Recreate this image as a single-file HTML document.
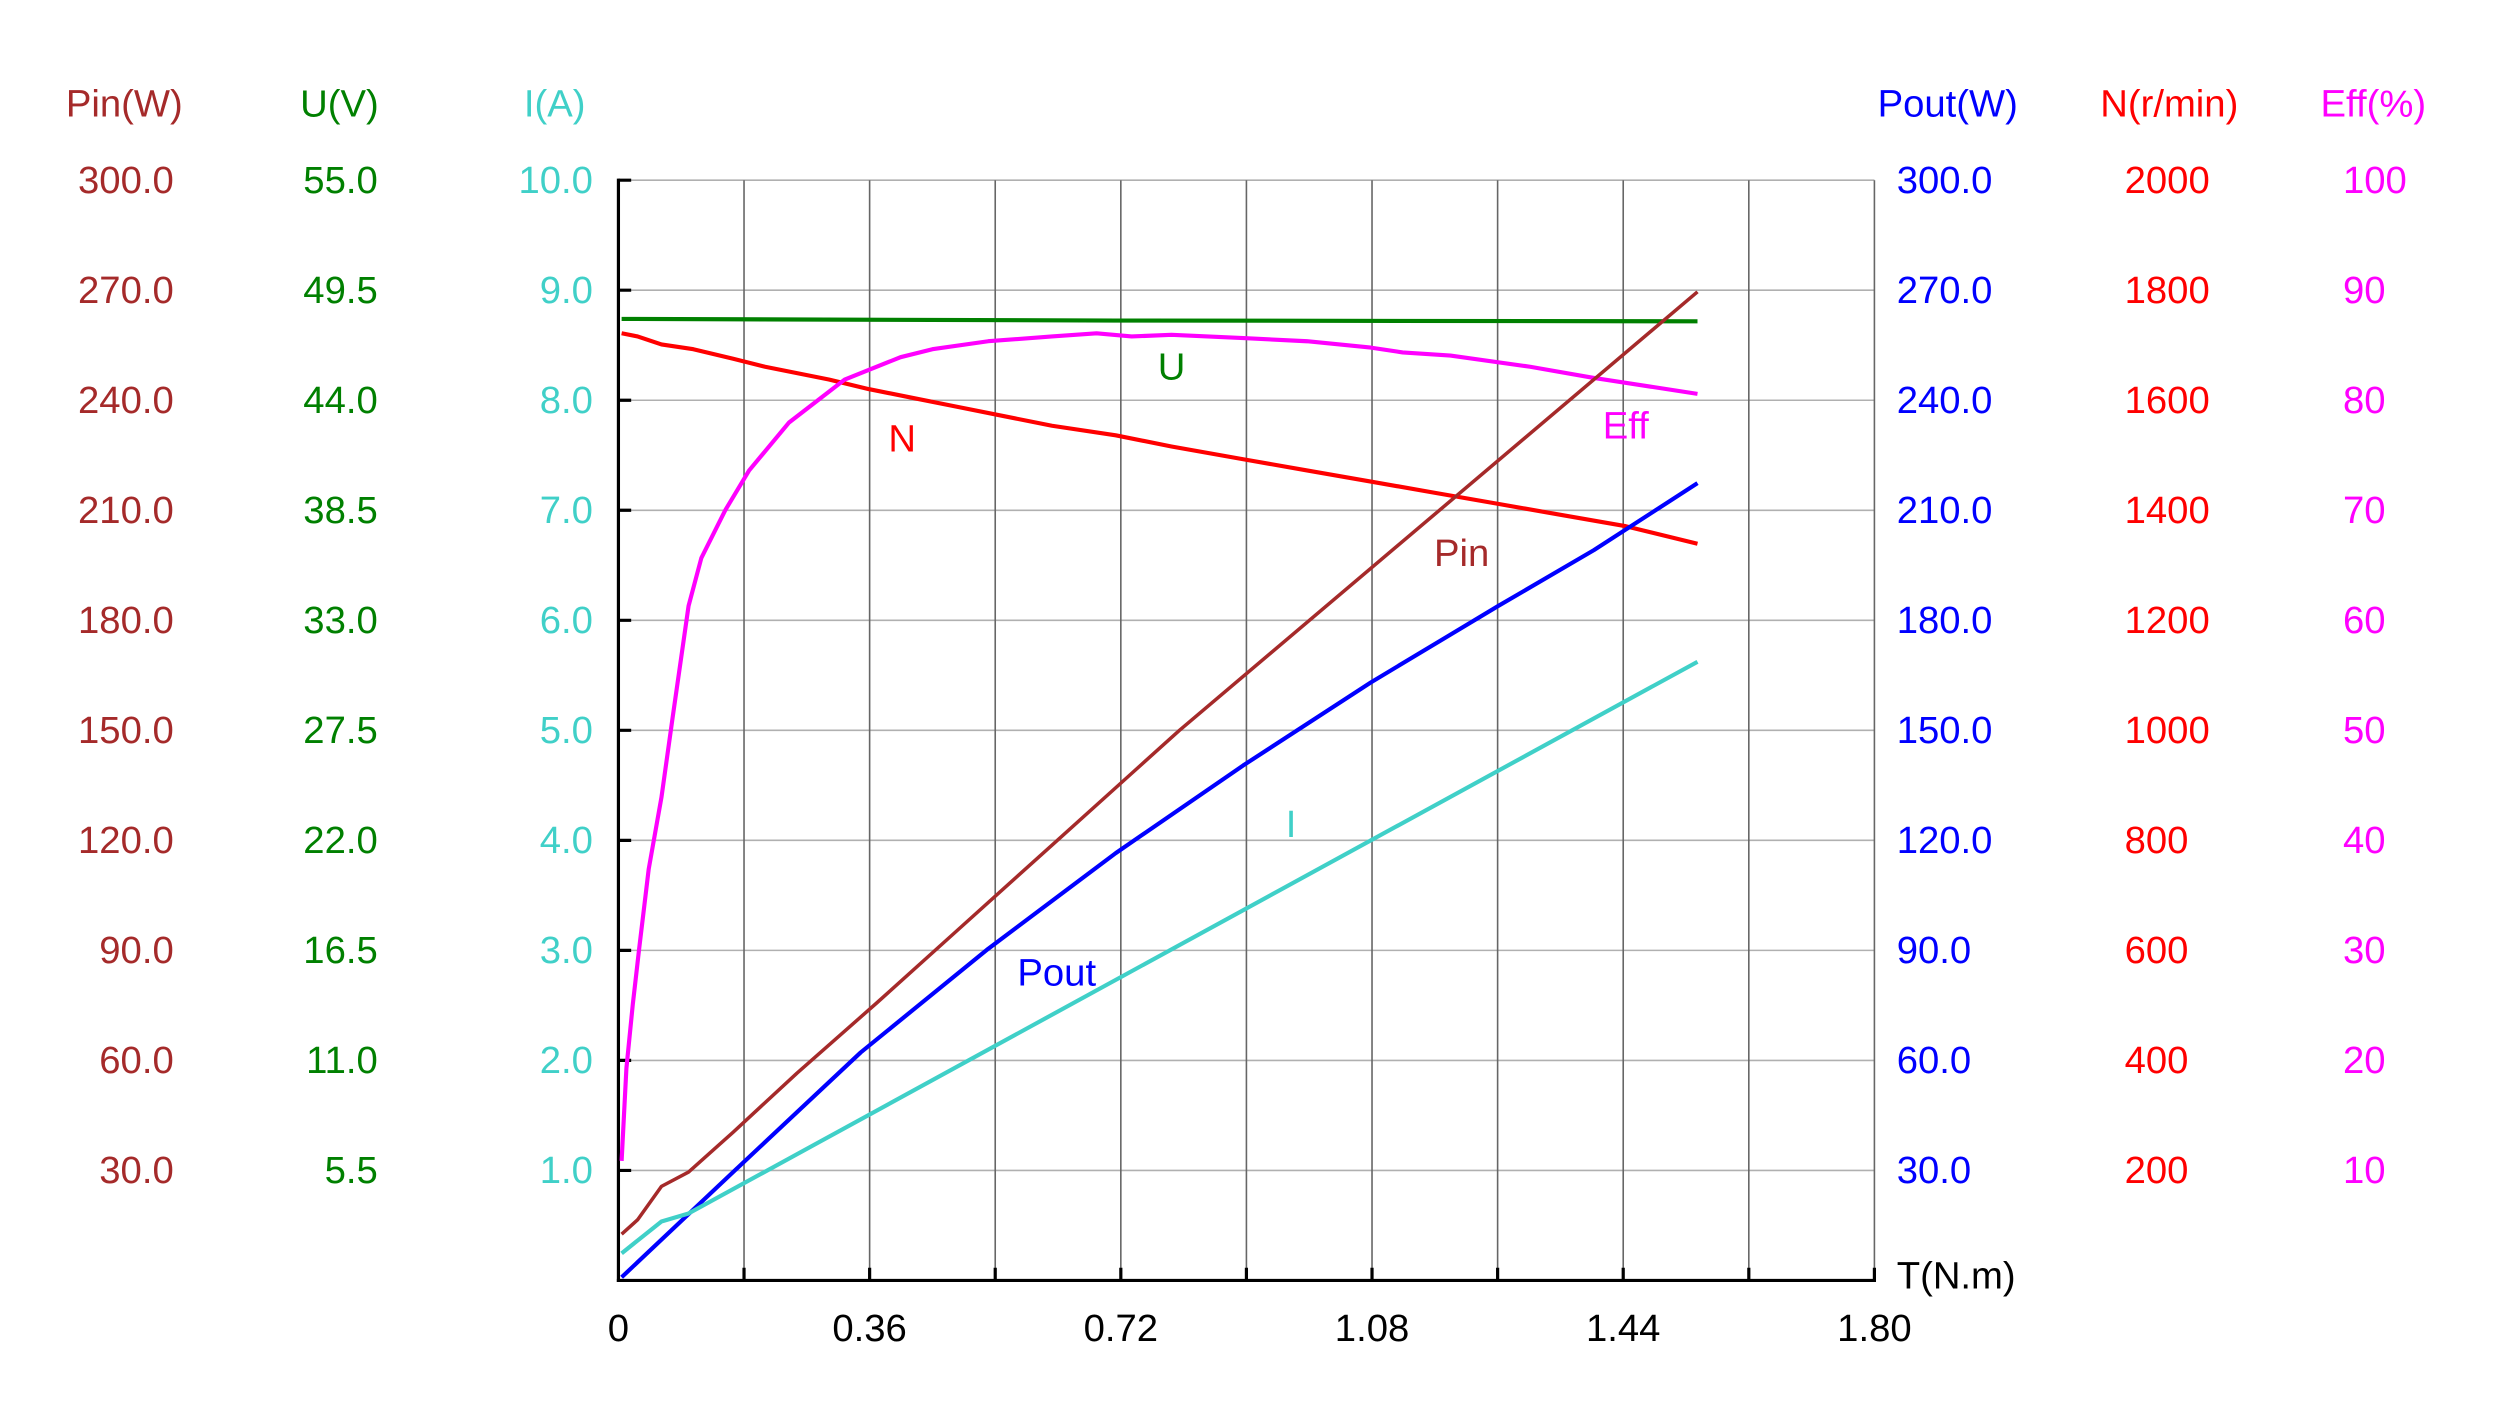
<!DOCTYPE html>
<html><head><meta charset="utf-8"><style>html,body{margin:0;padding:0;background:#fff}svg{display:block}</style></head>
<body>
<svg width="2504" height="1416" viewBox="0 0 1571 888" preserveAspectRatio="none" xmlns="http://www.w3.org/2000/svg" font-family="Liberation Sans, sans-serif" font-size="24">
<rect width="1571" height="888" fill="#fff"/>
<g stroke="#b0b0b0" stroke-width="1">
<line x1="388" y1="113" x2="1176" y2="113"/><line x1="388" y1="182" x2="1176" y2="182"/><line x1="388" y1="251" x2="1176" y2="251"/><line x1="388" y1="320" x2="1176" y2="320"/><line x1="388" y1="389" x2="1176" y2="389"/><line x1="388" y1="458" x2="1176" y2="458"/><line x1="388" y1="527" x2="1176" y2="527"/><line x1="388" y1="596" x2="1176" y2="596"/><line x1="388" y1="665" x2="1176" y2="665"/><line x1="388" y1="734" x2="1176" y2="734"/>
</g>
<g stroke="#666" stroke-width="1">
<line x1="466.8" y1="113" x2="466.8" y2="803"/><line x1="545.6" y1="113" x2="545.6" y2="803"/><line x1="624.4" y1="113" x2="624.4" y2="803"/><line x1="703.2" y1="113" x2="703.2" y2="803"/><line x1="782" y1="113" x2="782" y2="803"/><line x1="860.8" y1="113" x2="860.8" y2="803"/><line x1="939.6" y1="113" x2="939.6" y2="803"/><line x1="1018.4" y1="113" x2="1018.4" y2="803"/><line x1="1097.2" y1="113" x2="1097.2" y2="803"/><line x1="1176" y1="113" x2="1176" y2="803"/>
</g>
<g stroke="#000" stroke-width="2">
<line x1="388" y1="112" x2="388" y2="804"/><line x1="387" y1="803" x2="1177" y2="803"/>
<path d="M388 113h8M388 182h8M388 251h8M388 320h8M388 389h8M388 458h8M388 527h8M388 596h8M388 665h8M388 734h8M466.8 803v-8M545.6 803v-8M624.4 803v-8M703.2 803v-8M782 803v-8M860.8 803v-8M939.6 803v-8M1018.4 803v-8M1097.2 803v-8M1176 803v-8"/>
</g>
<g fill="none" stroke-width="2.6" stroke-linejoin="round">
<polyline stroke="#008000" points="390,200 700,201 1065,201.5"/>
<polyline stroke="#ff0000" points="390,209 400,211 415,216 435,219 460,225 480,230 500,234 520,238 545,244 570,249 600,255 630,261 660,267 700,273 735,280 780,288 820,295 860,302 900,309 940,316 980,323 1020,330 1065,341"/>
<polyline stroke="#ff00ff" points="390,728 393,670 397,630 401,595 407,545 415,500 422,450 432,380 440,350 455,320 470,295 495,265 530,238 565,224 585,219 620,214 660,211 688,209 710,211 735,210 780,212 820,214 860,218 880,221 910,223 960,230 1000,237 1065,247"/>
<polyline stroke="#a52a2a" stroke-width="2.2" points="390,774 400,765 415,744 432,735 460,710 500,673 550,629 600,584 660,530 710,485 740,458 1065,183"/>
<polyline stroke="#0000ff" points="390,801 460,735 540,660 620,595 700,535 780,480 860,428 940,380 1000,345 1065,303"/>
<polyline stroke="#40d0c8" points="390,786 415,766 432,761 1065,415"/>
</g>
<g text-anchor="middle">
<text x="78" y="73" fill="#a52a2a">Pin(W)</text>
<text x="213" y="73" fill="#008000">U(V)</text>
<text x="348" y="73" fill="#40d0c8">I(A)</text>
<text x="1222" y="73" fill="#0000ff">Pout(W)</text>
<text x="1361" y="73" fill="#ff0000">N(r/min)</text>
<text x="1489" y="73" fill="#ff00ff">Eff(%)</text>
</g>
<g text-anchor="end" fill="#a52a2a"><text x="109" y="121">300.0</text><text x="109" y="190">270.0</text><text x="109" y="259">240.0</text><text x="109" y="328">210.0</text><text x="109" y="397">180.0</text><text x="109" y="466">150.0</text><text x="109" y="535">120.0</text><text x="109" y="604">90.0</text><text x="109" y="673">60.0</text><text x="109" y="742">30.0</text></g>
<g text-anchor="end" fill="#008000"><text x="237" y="121">55.0</text><text x="237" y="190">49.5</text><text x="237" y="259">44.0</text><text x="237" y="328">38.5</text><text x="237" y="397">33.0</text><text x="237" y="466">27.5</text><text x="237" y="535">22.0</text><text x="237" y="604">16.5</text><text x="237" y="673">11.0</text><text x="237" y="742">5.5</text></g>
<g text-anchor="end" fill="#40d0c8"><text x="372" y="121">10.0</text><text x="372" y="190">9.0</text><text x="372" y="259">8.0</text><text x="372" y="328">7.0</text><text x="372" y="397">6.0</text><text x="372" y="466">5.0</text><text x="372" y="535">4.0</text><text x="372" y="604">3.0</text><text x="372" y="673">2.0</text><text x="372" y="742">1.0</text></g>
<g fill="#0000ff"><text x="1190" y="121">300.0</text><text x="1190" y="190">270.0</text><text x="1190" y="259">240.0</text><text x="1190" y="328">210.0</text><text x="1190" y="397">180.0</text><text x="1190" y="466">150.0</text><text x="1190" y="535">120.0</text><text x="1190" y="604">90.0</text><text x="1190" y="673">60.0</text><text x="1190" y="742">30.0</text></g>
<g fill="#ff0000"><text x="1333" y="121">2000</text><text x="1333" y="190">1800</text><text x="1333" y="259">1600</text><text x="1333" y="328">1400</text><text x="1333" y="397">1200</text><text x="1333" y="466">1000</text><text x="1333" y="535">800</text><text x="1333" y="604">600</text><text x="1333" y="673">400</text><text x="1333" y="742">200</text></g>
<g fill="#ff00ff"><text x="1470" y="121">100</text><text x="1470" y="190">90</text><text x="1470" y="259">80</text><text x="1470" y="328">70</text><text x="1470" y="397">60</text><text x="1470" y="466">50</text><text x="1470" y="535">40</text><text x="1470" y="604">30</text><text x="1470" y="673">20</text><text x="1470" y="742">10</text></g>
<g text-anchor="middle" fill="#000"><text x="388" y="841">0</text><text x="545.6" y="841">0.36</text><text x="703.2" y="841">0.72</text><text x="860.8" y="841">1.08</text><text x="1018.4" y="841">1.44</text><text x="1176" y="841">1.80</text></g>
<text x="1190" y="808" fill="#000">T(N.m)</text>
<g text-anchor="middle">
<text x="735" y="238" fill="#008000">U</text>
<text x="566" y="283" fill="#ff0000">N</text>
<text x="1020" y="275" fill="#ff00ff">Eff</text>
<text x="917" y="355" fill="#a52a2a">Pin</text>
<text x="663" y="618" fill="#0000ff">Pout</text>
<text x="810" y="525" fill="#40d0c8">I</text>
</g>
</svg>
</body></html>
